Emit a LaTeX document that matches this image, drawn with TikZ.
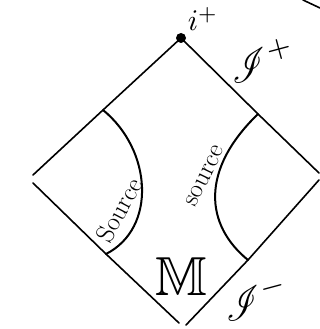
\documentclass[tikz,border=0pt]{standalone}
\usepackage{amsmath,amssymb}
\usepackage{mathrsfs}
\usetikzlibrary{calc}

\begin{document}
\begin{tikzpicture}[x=1pt, y=-1pt,
    bnd/.style={line width=1.6pt, line cap=round},
    src/.style={line width=2pt, line cap=round},
    lbl/.style={inner sep=0pt, font=\fontsize{26}{26}\selectfont},
    big/.style={inner sep=0pt, scale=4}
]
\useasboundingbox (0,0) rectangle (320,329);

\coordinate (top) at (181,38);
\coordinate (leftU) at (33,175);
\coordinate (leftL) at (33,183);
\coordinate (botL) at (179,323);
\coordinate (botR) at (186,325);
\coordinate (rightU) at (319,173);
\coordinate (rightL) at (319,180);

\coordinate (srcLa) at (103,110);
\coordinate (srcLb) at (106,254);
\coordinate (srcRa) at (258,114);
\coordinate (srcRb) at (248,260);

\coordinate (strayA) at (303,0);
\coordinate (strayB) at (320,8);

% boundary of the diamond
\draw[bnd] (top) -- (srcLa) -- (leftU);
\draw[bnd] (leftL) -- (srcLb) -- (botL);
\draw[bnd] (botR) -- (srcRb) -- (rightL);
\draw[bnd] (rightU) -- (srcRa) -- (top);
\draw[bnd] (strayA) -- (strayB);

% sources
\draw[src] (srcLa) .. controls (152,150) and (157,228) .. (srcLb);
\draw[src] (srcRa) .. controls (200,170) and (205,225) .. (srcRb);

\node[circle, fill, inner sep=0pt, minimum size=10pt] (iplus) at (top) {};
\node[inner sep=0pt, scale=3] (iLbl) at (203,19) {$i^+$};
\node[big, rotate=15] (scriP) at (262,60) {$\mathscr{I}^+$};
\node[big, rotate=15] (scriM) at (256,298) {$\mathscr{I}^-$};
\node[inner sep=0pt, font=\fontsize{55}{55}\selectfont] (mink) at (181,277) {$\mathbb{M}$};

\node[lbl, rotate=62] (srcLlbl) at (119,210) {Source};
\node[lbl, rotate=64] (srcRlbl) at (205,176) {source};
\end{tikzpicture}
\end{document}
